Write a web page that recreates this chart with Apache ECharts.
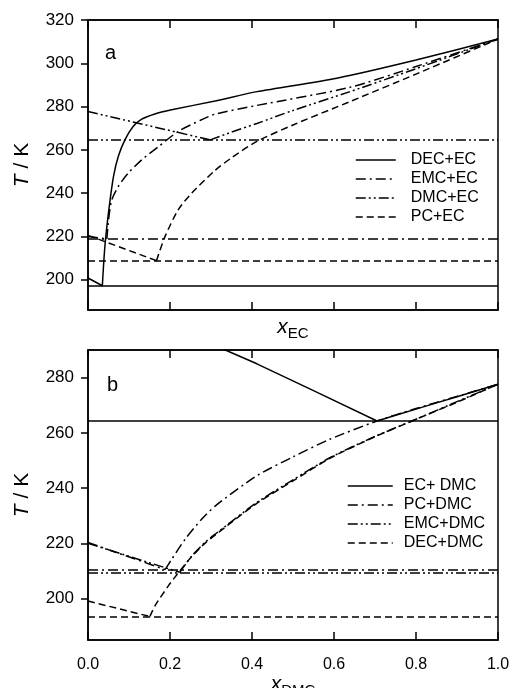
<!DOCTYPE html>
<html>
<head>
<meta charset="utf-8">
<script src="https://cdn.jsdelivr.net/npm/echarts@6/dist/echarts.min.js"></script>
<style>
  html, body { margin: 0; padding: 0; background: #fff; }
  #chart { width: 514px; height: 688px; }
</style>
</head>
<body>
<div id="chart"></div>
<script>
// panel a: T / K vs x_EC
const namesA = ['DEC+EC', 'EMC+EC', 'DMC+EC', 'PC+EC']
const decEC = [[0, 200.8], [0.035, 197.2], [0.041, 215], [0.050, 231], [0.062, 247.5], [0.074, 257], [0.090, 264.6], [0.11, 270.8], [0.131, 274.2], [0.163, 276.6], [0.204, 278.5], [0.31, 282.6], [0.412, 286.9], [0.607, 293.1], [0.8, 301.5], [1, 311.2]]
const emcEC = [[0, 220], [0.046, 218.8], [0.051, 229], [0.058, 236.9], [0.074, 243.1], [0.098, 249.2], [0.131, 255.4], [0.172, 261.5], [0.22, 268.5], [0.277, 273.9], [0.31, 276.5], [0.411, 280.5], [0.639, 288.9], [0.8, 298.5], [1, 311.2]]
const dmcEC = [[0, 277.7], [0.1, 273.3], [0.2, 268.9], [0.298, 264.6], [0.35, 268.2], [0.412, 272.2], [0.5, 278.2], [0.639, 286.9], [0.8, 297.5], [1, 311.2]]
const pcEC = [[0, 220.5], [0.167, 208.8], [0.188, 220], [0.22, 232.3], [0.253, 240], [0.31, 250.5], [0.35, 256.3], [0.411, 263.8], [0.5, 271.5], [0.639, 282.3], [0.8, 295], [1, 311.2]]
const eutecticA = [197.2, 218.8, 264.6, 208.8]

// panel b: T / K vs x_DMC
const namesB = ['EC+ DMC', 'PC+DMC', 'EMC+DMC', 'DEC+DMC']
const ecDMC = [[0.332, 290.2], [0.412, 285], [0.55, 275.3], [0.705, 264.3], [0.8, 268.6], [0.9, 273.1], [1, 277.6]]
const pcDMC = [[0, 220.3], [0.188, 210.5], [0.204, 214.2], [0.237, 221.5], [0.277, 228.7], [0.31, 233.5], [0.411, 244.4], [0.5, 251.3], [0.59, 257.7], [0.705, 264.3], [0.8, 268.8], [0.9, 273.2], [1, 277.6]]
const emcDMC = [[0, 220], [0.224, 209.5], [0.253, 215.4], [0.285, 220.3], [0.31, 223.3], [0.411, 234.7], [0.5, 243], [0.59, 251], [0.7, 258.7], [0.79, 264.3], [0.9, 271.3], [1, 277.6]]
const decDMC = [[0, 199.1], [0.151, 193.5], [0.163, 197.3], [0.196, 204.6], [0.224, 210], [0.253, 215.2], [0.285, 220], [0.31, 223], [0.411, 234.4], [0.5, 242.6], [0.59, 250.8], [0.7, 258.6], [0.79, 264.3], [0.9, 271.1], [1, 277.6]]
const eutecticB = [264.3, 210.4, 209.3, 193.5]

const ticksA = [200, 220, 240, 260, 280, 300, 320]
const ticksB = [200, 220, 240, 260, 280]

const FONT = 'Liberation Sans, Arial, Helvetica, sans-serif'
// solid, dash-dot, dash-dot-dot, dashed
const dashes = ['solid', [10, 4, 2, 4], [10, 3, 2, 3, 2, 3], [7, 4]]

function xAxes (gridIndex, showLabels, name, gap) {
  return [{
    type: 'value',
    gridIndex: gridIndex,
    min: 0,
    max: 1,
    interval: 0.2,
    name: name,
    nameLocation: 'middle',
    nameGap: gap,
    nameTextStyle: {
      color: '#000',
      rich: {
        i: { fontFamily: FONT, fontSize: 21, fontStyle: 'italic', color: '#000' },
        s: { fontFamily: FONT, fontSize: 15, color: '#000', padding: [12, 0, 0, 0] }
      }
    },
    axisLine: { show: true, lineStyle: { color: '#000', width: 1.5 } },
    axisTick: { show: true, inside: true, length: 8, lineStyle: { color: '#000', width: 1.5 } },
    axisLabel: {
      show: showLabels,
      margin: 17,
      color: '#000',
      fontFamily: FONT,
      fontSize: 16,
      formatter: v => v.toFixed(1)
    },
    splitLine: { show: false }
  }, {
    type: 'value',
    gridIndex: gridIndex,
    position: 'top',
    min: 0,
    max: 1,
    interval: 0.2,
    axisLine: { show: true, lineStyle: { color: '#000', width: 1.5 } },
    axisTick: { show: true, inside: true, length: 8, lineStyle: { color: '#000', width: 1.5 } },
    axisLabel: { show: false },
    splitLine: { show: false }
  }]
}

function yAxis (gridIndex, min, max, ticks) {
  return {
    type: 'value',
    gridIndex: gridIndex,
    min: min,
    max: max,
    name: '{i|T}{n| / K}',
    nameLocation: 'middle',
    nameGap: 55,
    nameTextStyle: {
      fontFamily: FONT,
      fontSize: 21,
      color: '#000',
      rich: {
        i: { fontFamily: FONT, fontSize: 21, fontStyle: 'italic', color: '#000' },
        n: { fontFamily: FONT, fontSize: 21, color: '#000' }
      }
    },
    axisLine: { show: true, lineStyle: { color: '#000', width: 1.5 } },
    axisTick: { show: true, length: 7, customValues: ticks, lineStyle: { color: '#000', width: 1.5 } },
    axisLabel: { margin: 14, color: '#000', fontFamily: FONT, fontSize: 17, customValues: ticks },
    splitLine: { show: false }
  }
}

// split each curve at its eutectic (lowest point): straight left branch, smooth right branch
function makeSeries (names, datas, eutectics, xi, yi) {
  const out = []
  names.forEach((n, i) => {
    const d = datas[i]
    let k = 0
    d.forEach((p, j) => { if (p[1] < d[k][1]) k = j })
    const style = { color: '#000', width: 1.5, type: dashes[i] }
    out.push({
      name: n,
      type: 'line',
      xAxisIndex: xi,
      yAxisIndex: yi,
      data: d.slice(0, k + 1),
      symbol: 'none',
      clip: true,
      lineStyle: style,
      itemStyle: { color: '#000' },
      markLine: {
        silent: true,
        symbol: 'none',
        label: { show: false },
        lineStyle: style,
        data: [{ yAxis: eutectics[i] }]
      }
    })
    out.push({
      name: n,
      type: 'line',
      xAxisIndex: xi,
      yAxisIndex: yi,
      data: d.slice(k),
      symbol: 'none',
      smooth: 0.25,
      clip: true,
      lineStyle: style,
      itemStyle: { color: '#000' }
    })
  })
  return out
}

const legendBase = {
  orient: 'vertical',
  padding: 0,
  itemHeight: 12,
  itemStyle: { color: 'rgba(0,0,0,0)', borderColor: 'rgba(0,0,0,0)', borderWidth: 0 },
  lineStyle: { width: 1.5 },
  selectedMode: false
}

const chart = echarts.init(document.getElementById('chart'))
chart.setOption({
  backgroundColor: '#fff',
  animation: false,
  grid: [
    { left: 88, top: 20, width: 410, height: 290, outerBoundsMode: 'none', show: true, borderColor: '#000', borderWidth: 1.5 },
    { left: 88, top: 350, width: 410, height: 290, outerBoundsMode: 'none', show: true, borderColor: '#000', borderWidth: 1.5 }
  ],
  xAxis: [].concat(
    xAxes(0, false, '{i|x}{s|EC}', 4),
    xAxes(1, true, '{i|x}{s|DMC}', 22)
  ),
  yAxis: [
    yAxis(0, 186, 320, ticksA),
    yAxis(1, 185, 290, ticksB)
  ],
  legend: [
    Object.assign({}, legendBase, {
      data: namesA, left: 355, top: 152, itemWidth: 40, itemGap: 3,
      textStyle: { color: '#000', fontFamily: FONT, fontSize: 16, lineHeight: 15, padding: [0, 0, 0, 10] }
    }),
    Object.assign({}, legendBase, {
      data: namesB, left: 347, top: 478, itemWidth: 45, itemGap: 3,
      textStyle: { color: '#000', fontFamily: FONT, fontSize: 16, lineHeight: 15, padding: [0, 0, 0, 6] }
    })
  ],
  graphic: [
    { type: 'text', left: 105, top: 43, style: { text: 'a', font: '20px ' + FONT, fill: '#000' } },
    { type: 'text', left: 107, top: 375, style: { text: 'b', font: '20px ' + FONT, fill: '#000' } }
  ],
  series: [].concat(
    makeSeries(namesA, [decEC, emcEC, dmcEC, pcEC], eutecticA, 0, 0),
    makeSeries(namesB, [ecDMC, pcDMC, emcDMC, decDMC], eutecticB, 2, 1)
  )
})
</script>
</body>
</html>
